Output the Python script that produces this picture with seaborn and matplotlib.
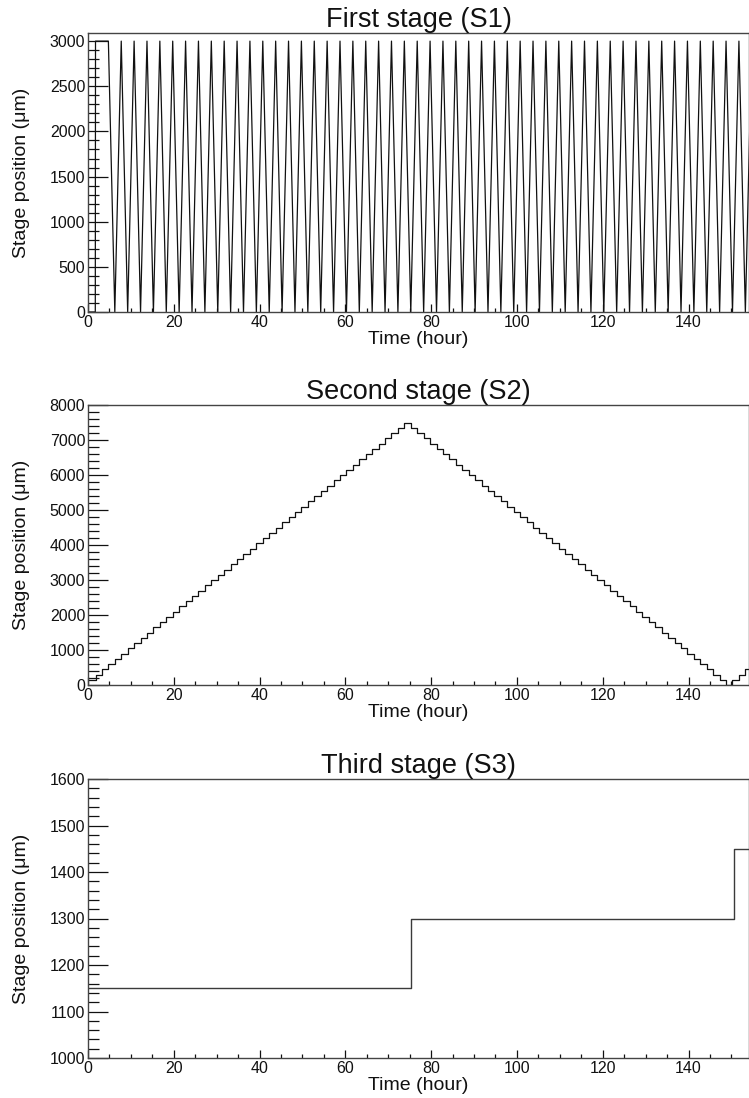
import matplotlib
matplotlib.use("Agg")
import matplotlib.pyplot as plt
import seaborn as sns
import pandas as pd
from matplotlib.ticker import MultipleLocator

# ---------------- data ----------------
# times (hour) at which stage S1 turns around / stage S2 steps
turn_times = [
    1.75, 3.25, 4.75,
    6.25, 7.75, 9.25, 10.75, 12.25, 13.75, 15.25, 16.75, 18.25, 19.75,
    21.25, 22.75, 24.25, 25.75, 27.25, 28.75, 30.25, 31.75, 33.25, 34.75,
    36.25, 37.75, 39.25, 40.75, 42.25, 43.75, 45.25, 46.75, 48.25, 49.75,
    51.25, 52.75, 54.25, 55.75, 57.25, 58.75, 60.25, 61.75, 63.25, 64.75,
    66.25, 67.75, 69.25, 70.75, 72.25, 73.75, 75.25, 76.75, 78.25, 79.75,
    81.25, 82.75, 84.25, 85.75, 87.25, 88.75, 90.25, 91.75, 93.25, 94.75,
    96.25, 97.75, 99.25, 100.75, 102.25, 103.75, 105.25, 106.75, 108.25, 109.75,
    111.25, 112.75, 114.25, 115.75, 117.25, 118.75, 120.25, 121.75, 123.25, 124.75,
    126.25, 127.75, 129.25, 130.75, 132.25, 133.75, 135.25, 136.75, 138.25, 139.75,
    141.25, 142.75, 144.25, 145.75, 147.25, 148.75, 150.25, 151.75, 153.25, 154.75,
]

# S1 position (um) at start and at each turning time
s1_start_times = [0.0, 1.7]
s1_start_values = [0, 0]
s1_values = [
    3000, 3000, 3000,
    0, 3000, 0, 3000, 0, 3000, 0, 3000, 0, 3000,
    0, 3000, 0, 3000, 0, 3000, 0, 3000, 0, 3000,
    0, 3000, 0, 3000, 0, 3000, 0, 3000, 0, 3000,
    0, 3000, 0, 3000, 0, 3000, 0, 3000, 0, 3000,
    0, 3000, 0, 3000, 0, 3000, 0, 3000, 0, 3000,
    0, 3000, 0, 3000, 0, 3000, 0, 3000, 0, 3000,
    0, 3000, 0, 3000, 0, 3000, 0, 3000, 0, 3000,
    0, 3000, 0, 3000, 0, 3000, 0, 3000, 0, 3000,
    0, 3000, 0, 3000, 0, 3000, 0, 3000, 0, 3000,
    0, 3000, 0, 3000, 0, 3000, 0, 3000, 0, 3000,
]

# S2 level (um) held from t=0 and from each turning time onwards
s2_first_time = 0.0
s2_levels = [
    150, 300, 450, 600, 750, 900, 1050, 1200, 1350, 1500,
    1650, 1800, 1950, 2100, 2250, 2400, 2550, 2700, 2850, 3000,
    3150, 3300, 3450, 3600, 3750, 3900, 4050, 4200, 4350, 4500,
    4650, 4800, 4950, 5100, 5250, 5400, 5550, 5700, 5850, 6000,
    6150, 6300, 6450, 6600, 6750, 6900, 7050, 7200, 7350, 7500,
    7350, 7200, 7050, 6900, 6750, 6600, 6450, 6300, 6150, 6000,
    5850, 5700, 5550, 5400, 5250, 5100, 4950, 4800, 4650, 4500,
    4350, 4200, 4050, 3900, 3750, 3600, 3450, 3300, 3150, 3000,
    2850, 2700, 2550, 2400, 2250, 2100, 1950, 1800, 1650, 1500,
    1350, 1200, 1050, 900, 750, 600, 450, 300, 150, 0,
    150, 300, 450, 600,
]

# S3 level (um) held from each time onwards
s3_times = [0.0, 75.25, 150.5]
s3_levels = [1150, 1300, 1450]

titles = ["First stage (S1)", "Second stage (S2)", "Third stage (S3)"]
x_label = "Time (hour)"
y_label = "Stage position (\u03bcm)"

# ---------------- figure ----------------
sns.set_theme(style="ticks")
plt.rcParams["font.family"] = ["Liberation Sans", "DejaVu Sans"]

X_MAX = 154.1

df1 = pd.DataFrame({"t": s1_start_times + turn_times,
                    "v": s1_start_values + s1_values})
df2 = pd.DataFrame({"t": [s2_first_time] + turn_times, "v": s2_levels})
df3 = pd.DataFrame({"t": s3_times + [X_MAX + 2], "v": s3_levels + [s3_levels[-1]]})

fig = plt.figure(figsize=(7.49, 10.98), dpi=100)
W, H = 749.0, 1098.0
left_px = 88
boxes = [(33, 312), (405, 685), (779, 1058)]
ylims = [(0, 3090), (0, 8000), (1000, 1600)]
ymaj = [500, 1000, 100]
ymin = [100, 200, 20]
colors = ["#111111", "#111111", "#3a3a3a"]

axes = []
for (top, bot) in boxes:
    ax = fig.add_axes([left_px / W, 1 - bot / H, (W - left_px) / W, (bot - top) / H])
    axes.append(ax)

sns.lineplot(data=df1, x="t", y="v", ax=axes[0], estimator=None, sort=False,
             color=colors[0], linewidth=0.9)
sns.lineplot(data=df2, x="t", y="v", ax=axes[1], estimator=None, sort=False,
             drawstyle="steps-post", color=colors[1], linewidth=0.9)
sns.lineplot(data=df3, x="t", y="v", ax=axes[2], estimator=None, sort=False,
             drawstyle="steps-post", color=colors[2], linewidth=1.0)

for i, ax in enumerate(axes):
    ax.set_xlim(0, X_MAX)
    ax.set_ylim(*ylims[i])
    ax.xaxis.set_major_locator(MultipleLocator(20))
    ax.xaxis.set_minor_locator(MultipleLocator(5))
    ax.yaxis.set_major_locator(MultipleLocator(ymaj[i]))
    ax.yaxis.set_minor_locator(MultipleLocator(ymin[i]))
    ax.tick_params(axis="both", which="both", left=True, bottom=True,
                   right=False, top=False, direction="in")
    ax.tick_params(axis="y", which="major", length=14.5, width=0.9,
                   color="#111111", labelsize=11.5, pad=2, labelcolor="#111111")
    ax.tick_params(axis="y", which="minor", length=8, width=0.9,
                   color="#111111")
    ax.tick_params(axis="x", which="major", length=5.5, width=0.9,
                   color="#111111", labelsize=11.5, pad=2, labelcolor="#111111")
    ax.tick_params(axis="x", which="minor", length=2.8, width=0.9,
                   color="#111111")
    for s in ["left", "bottom", "top", "right"]:
        ax.spines[s].set_visible(True)
        ax.spines[s].set_color("#444444")
        ax.spines[s].set_linewidth(1.0)
    ax.set_title(titles[i], fontsize=19.5, pad=3, color="#111111")
    ax.set_xlabel(x_label, fontsize=14, labelpad=1, color="#111111")
    ax.set_ylabel(y_label, fontsize=14, color="#111111")
    ax.yaxis.set_label_coords(-0.088, 0.5)

fig.savefig("out.png", dpi=100)
